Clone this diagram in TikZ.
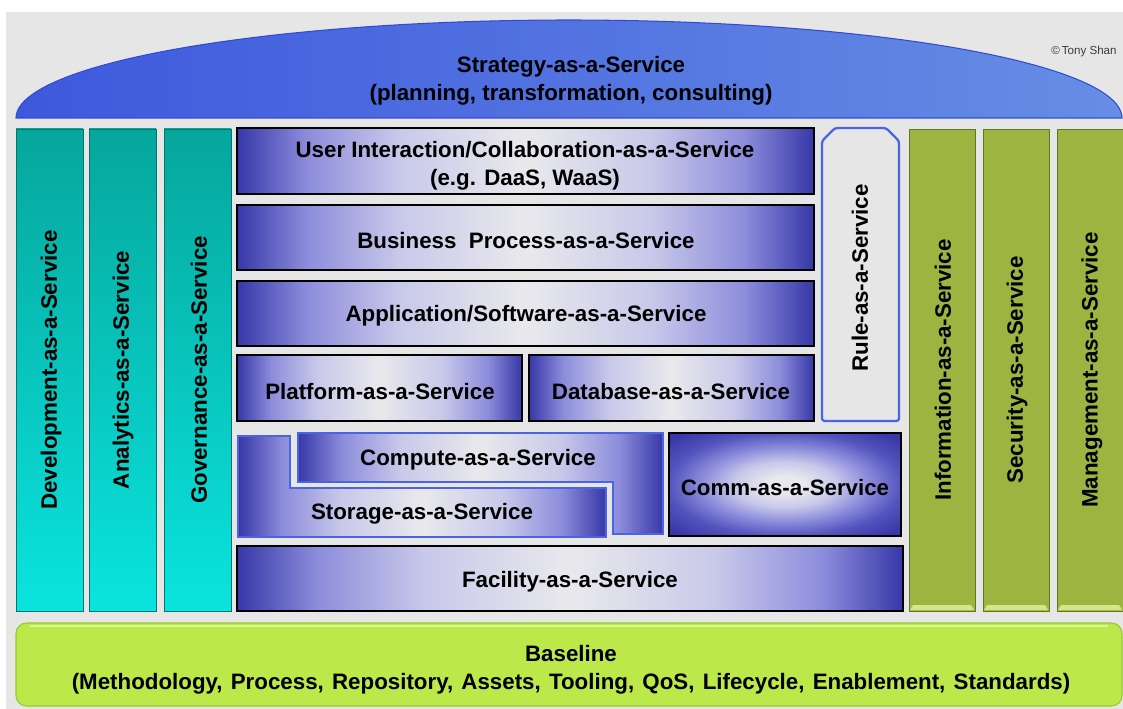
\documentclass[tikz,border=0pt]{standalone}
\usepackage{fontspec}
\setmainfont{Liberation Sans}
\definecolor{bg}{RGB}{230,230,230}
\definecolor{domeL}{RGB}{62,88,221}
\definecolor{domeR}{RGB}{102,142,228}
\definecolor{domeB}{RGB}{50,75,215}
\definecolor{tealT}{RGB}{6,166,156}
\definecolor{tealB}{RGB}{10,228,222}
\definecolor{tealD}{RGB}{0,118,108}
\definecolor{olive}{RGB}{157,181,64}
\definecolor{oliveD}{RGB}{98,118,36}
\definecolor{oliveL}{RGB}{214,228,140}
\definecolor{baseG}{RGB}{188,232,74}
\definecolor{baseD}{RGB}{150,200,50}
\definecolor{baseL}{RGB}{222,242,150}
\definecolor{ruleB}{RGB}{74,100,226}
\definecolor{pdark}{RGB}{55,55,168}
\definecolor{pdark2}{RGB}{85,85,190}
\definecolor{pmid}{RGB}{140,140,220}
\definecolor{plight2}{RGB}{200,200,234}
\definecolor{plight}{RGB}{233,233,236}
\pgfdeclarehorizontalshading{pbar}{100bp}{color(0bp)=(pdark); color(25bp)=(pdark); color(31bp)=(pmid); color(39bp)=(plight2); color(50bp)=(plight); color(61bp)=(plight2); color(69bp)=(pmid); color(75bp)=(pdark); color(100bp)=(pdark)}
\pgfdeclareradialshading{pradial}{\pgfpoint{0bp}{0bp}}{color(0bp)=(plight); color(4bp)=(plight); color(11bp)=(plight2); color(18bp)=(pmid); color(25bp)=(pdark2); color(33bp)=(pdark); color(50bp)=(pdark)}
\begin{document}
\begin{tikzpicture}[x=0.02cm,y=-0.02cm,
  txt/.style={font=\fontsize{12.7}{15.9}\selectfont\bfseries, align=center, text=black, inner sep=0pt},
  vtxt/.style={txt, rotate=90},
  pbox/.style={draw=black, line width=0.9pt, shading=pbar},
  pblue/.style={draw=ruleB, line width=1.1pt, shading=pbar},
  tealcol/.style={top color=tealT, bottom color=tealB, draw=tealD, line width=0.5pt},
  olivecol/.style={fill=olive, draw=oliveD, line width=0.5pt}]
\useasboundingbox (0,0) rectangle (1123,709);
\fill[white] (0,0) rectangle (1123,709);
\fill[bg] (6,12) rectangle (1123,709);
% Strategy dome
\shade[left color=domeL, right color=domeR, draw=domeB, line width=0.6pt]
  plot[domain=180:360, samples=90] ({569+553*cos(\x)}, {118+98*sin(\x)}) -- cycle;
\node[txt] (strat) at (571,80.5) {Strategy-as-a-Service\\(planning, transformation, consulting)};
\node[font=\fontsize{6.6}{8}\selectfont, text={rgb,255:red,60;green,60;blue,60}, inner sep=0pt] (copy) at (1084,52) {\textcopyright\,Tony Shan};
% teal columns
\foreach \x in {16,89,164}{
  \path[tealcol] (\x,129) rectangle (\x+67,611);
}
\node[vtxt] (dev) at (51,370) {Development-as-a-Service};
\node[vtxt] (ana) at (123,370) {Analytics-as-a-Service};
\node[vtxt] (gov) at (199,370) {Governance-as-a-Service};
% olive columns
\foreach \x in {909,983,1057}{
  \path[olivecol] (\x,129) rectangle (\x+66,611);
  \fill[oliveL] (\x+1,610) -- (\x+4,605) -- (\x+62,605) -- (\x+65,610) -- cycle;
}
\node[vtxt] (info) at (943,370) {Information-as-a-Service};
\node[vtxt] (sec) at (1017,370) {Security-as-a-Service};
\node[vtxt] (mgmt) at (1092,370) {Management-as-a-Service};
% rule
\draw[fill=bg, draw=ruleB, line width=1.3pt, rounded corners=1.5pt]
  (822,421) -- (822,141) -- (835,128) -- (886,128) -- (899,141) -- (899,421) -- cycle;
\node[vtxt] (rule) at (860,278) {Rule-as-a-Service};
% stack
\path[pbox] (237,128) rectangle (814,194);
\node[txt] (ui) at (525,165.5) {User Interaction/Collaboration-as-a-Service\\(e.g. DaaS, WaaS)};
\path[pbox] (237,205) rectangle (814,270);
\node[txt] (bp) at (526,240.5) {Business\ \ Process-as-a-Service};
\path[pbox] (237,281) rectangle (814,346);
\node[txt] (app) at (526,316) {Application/Software-as-a-Service};
\path[pbox] (237,355) rectangle (522,421);
\node[txt] (plat) at (380,391.5) {Platform-as-a-Service};
\path[pbox] (529,355) rectangle (814,421);
\node[txt] (db) at (671,391.5) {Database-as-a-Service};
\path[pblue] (238,436) -- (290,436) -- (290,488) -- (606,488) -- (606,537) -- (238,537) -- cycle;
\node[txt] (stor) at (422,514) {Storage-as-a-Service};
\path[pblue] (298,433) -- (663,433) -- (663,534) -- (613,534) -- (613,482) -- (298,482) -- cycle;
\node[txt] (comp) at (478,460) {Compute-as-a-Service};
\path[draw=black, line width=0.9pt, shading=pradial] (669,433) rectangle (901,536);
\node[txt] (comm) at (785,487.5) {Comm-as-a-Service};
\path[pbox] (237,546) rectangle (903,611);
\node[txt] (fac) at (570,581.5) {Facility-as-a-Service};
% baseline
\draw[fill=baseG, draw=baseD, line width=0.6pt, rounded corners=6pt] (16,623) rectangle (1122,706);
\draw[baseL, line width=1.2pt] (30,626) -- (1108,626);
\node[txt] (base) at (571,670) {Baseline\\\spaceskip=0.37em plus 0.05em (Methodology, Process, Repository, Assets, Tooling, QoS, Lifecycle, Enablement, Standards)};
\end{tikzpicture}
\end{document}
